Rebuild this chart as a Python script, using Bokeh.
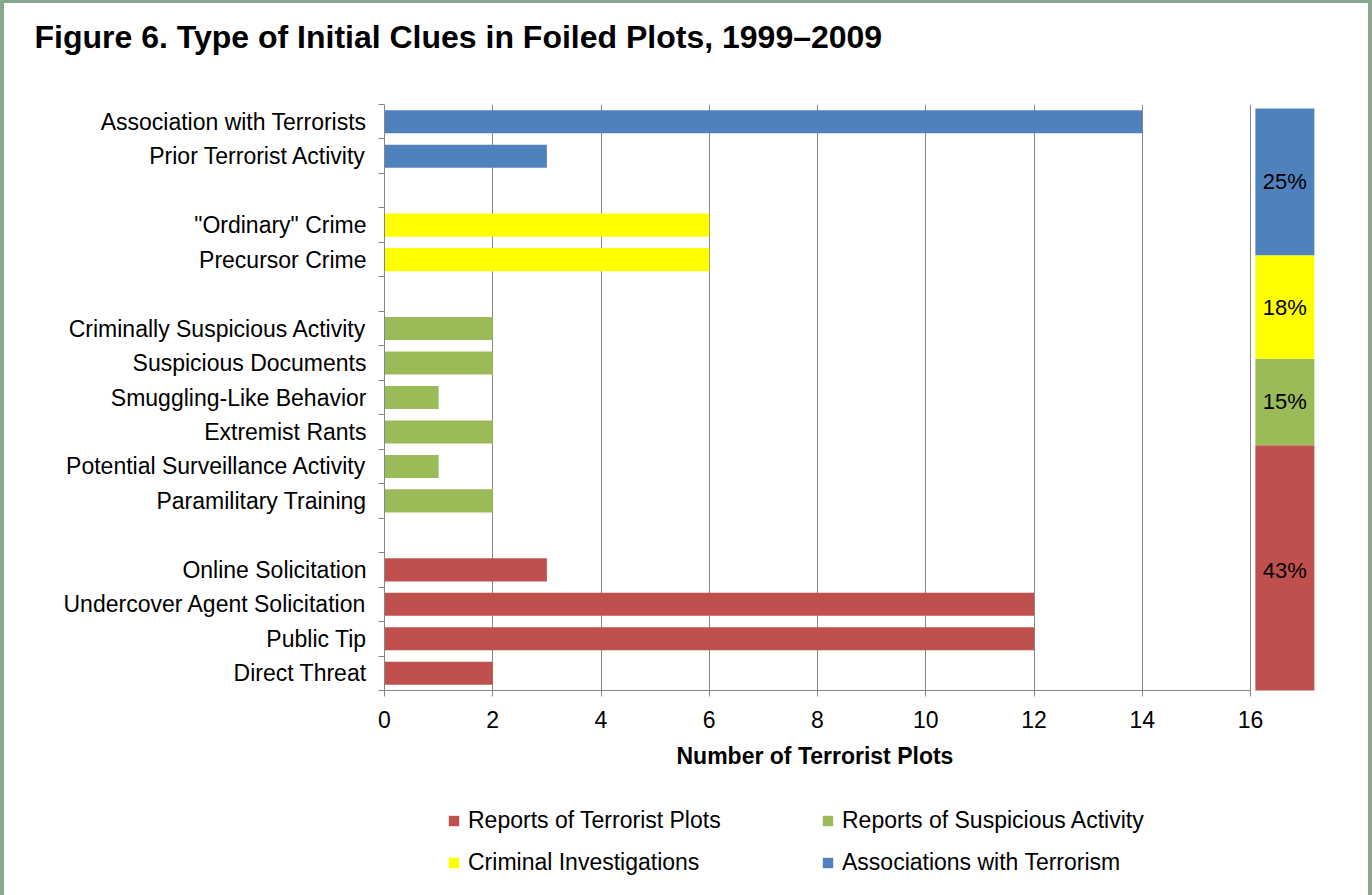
from bokeh.plotting import figure
from bokeh.layouts import column
from bokeh.models import Range1d, FixedTicker, Legend, LegendItem, ColumnDataSource, Title
from bokeh.embed import file_html
from bokeh.resources import INLINE
from bokeh.core.properties import value

# ---------------- data ----------------
title_text = "Figure 6. Type of Initial Clues in Foiled Plots, 1999\u20132009"
x_axis_label = "Number of Terrorist Plots"

group_names = ["Associations with Terrorism", "Criminal Investigations",
               "Reports of Suspicious Activity", "Reports of Terrorist Plots"]
group_colors = ["#4f81bd", "#ffff00", "#9bbb59", "#c0504d"]

assoc_labels = ["Association with Terrorists", "Prior Terrorist Activity"]
assoc_values = [14, 3]
crime_labels = ['"Ordinary" Crime', "Precursor Crime"]
crime_values = [6, 6]
susp_labels = ["Criminally Suspicious Activity", "Suspicious Documents",
               "Smuggling-Like Behavior", "Extremist Rants",
               "Potential Surveillance Activity", "Paramilitary Training"]
susp_values = [2, 2, 1, 2, 1, 2]
plot_labels = ["Online Solicitation", "Undercover Agent Solicitation",
               "Public Tip", "Direct Threat"]
plot_values = [3, 12, 12, 2]

x_ticks = [0, 2, 4, 6, 8, 10, 12, 14, 16]

group_labels = [assoc_labels, crime_labels, susp_labels, plot_labels]
group_values = [assoc_values, crime_values, susp_values, plot_values]

# ---------------- style / layout ----------------
FONT = "Liberation Sans"
GRAY = "#868686"
FRAME_GREEN = "#88a890"
FRAME_W, FRAME_H = 934, 586
X_MAX = 16
X_END = X_MAX * FRAME_W / 866.0      # frame also hosts the share column
SHARE_LEFT, SHARE_RIGHT = 16.09, 17.18
BAR_H = 0.67
FS = "23px"
TOTAL_W = 1372
MAIN_H = 790
LEG_H = 105

# slot positions (one empty slot between groups)
centers_per_group = []
slot = 0
for gi, labs in enumerate(group_labels):
    cs = []
    for _ in labs:
        cs.append(slot + 0.5)
        slot += 1
    centers_per_group.append(cs)
    if gi < len(group_labels) - 1:
        slot += 1
n_slots = slot

p = figure(frame_width=FRAME_W, frame_height=FRAME_H,
           x_range=Range1d(0, X_END), y_range=Range1d(n_slots, 0),
           min_border_left=384, min_border_right=TOTAL_W - 384 - FRAME_W,
           min_border_top=104, min_border_bottom=MAIN_H - 104 - FRAME_H,
           output_backend="svg", toolbar_location=None, title=None,
           background_fill_color="white", border_fill_alpha=0,
           outline_line_color=None)
p.extra_y_ranges = {"pct": Range1d(0.85, 100.68)}

# bars
renderers = []
for labs, vals, cs, col in zip(group_labels, group_values, centers_per_group, group_colors):
    src = ColumnDataSource(dict(y=cs, v=vals, name=labs))
    r = p.hbar(y="y", left=0, right="v", height=BAR_H, source=src,
               fill_color=col, line_color=None)
    renderers.append(r)

# share column (stacked, bottom = last group)
totals = [sum(v) for v in group_values]
grand = sum(totals)
bottoms, tops, mids, pct_text = [], [], [], []
acc = 0.0
for t in reversed(totals):
    share = 100.0 * t / grand
    bottoms.append(acc)
    tops.append(acc + share)
    mids.append(acc + share / 2)
    pct_text.append(f"{round(share)}%")
    acc += share
share_src = ColumnDataSource(dict(b=bottoms, t=tops, m=mids, txt=pct_text,
                                  c=list(reversed(group_colors))))
p.quad(left=SHARE_LEFT, right=SHARE_RIGHT, bottom="b", top="t", fill_color="c",
       line_color=None, source=share_src, y_range_name="pct")
p.text(x=(SHARE_LEFT + SHARE_RIGHT) / 2, y="m", text="txt", source=share_src,
       y_range_name="pct", text_align="center", text_baseline="middle",
       text_font=value(FONT), text_font_size="22px", text_color="black")

# axes
all_centers = [c for cs in centers_per_group for c in cs]
all_labels = [l for labs in group_labels for l in labs]
yax = p.yaxis[0]
yax.ticker = FixedTicker(ticks=all_centers, minor_ticks=list(range(n_slots + 1)))
yax.major_label_overrides = {c: l for c, l in zip(all_centers, all_labels)}
yax.major_tick_out = 0
yax.major_tick_in = 0
yax.minor_tick_out = 6
yax.minor_tick_in = 0
yax.minor_tick_line_color = GRAY
yax.axis_line_color = GRAY
yax.major_label_standoff = 12
yax.major_label_text_font = FONT
yax.major_label_text_font_size = FS
yax.major_label_text_color = "black"

xax = p.xaxis[0]
xax.ticker = FixedTicker(ticks=x_ticks)
xax.bounds = (0, X_MAX)
xax.axis_line_color = GRAY
xax.major_tick_line_color = GRAY
xax.major_tick_out = 6
xax.major_tick_in = 0
xax.minor_tick_line_color = None
xax.major_label_standoff = 14
xax.major_label_text_font = FONT
xax.major_label_text_font_size = FS
xax.major_label_text_color = "black"

p.ygrid.visible = False
p.xgrid.ticker = FixedTicker(ticks=x_ticks)
p.xgrid.bounds = (0, X_MAX)
p.xgrid.grid_line_color = GRAY

# title: a blank spacer next to the frame, then the title line above it
spacer = Title(text=" ", text_font=FONT, text_font_size="32px", standoff=12,
               text_color="white")
main_title = Title(text=title_text, align="left", offset=-350, standoff=0,
                   text_font=FONT, text_font_size="32px", text_font_style="bold",
                   text_color="black")
p.add_layout(spacer, "above")
p.add_layout(main_title, "above")

# x-axis title, placed under the middle of the 0..16 scale
xtitle = Title(text=x_axis_label, align="left", offset=292, standoff=20,
               text_font=FONT, text_font_size=FS, text_font_style="bold",
               text_color="black")
p.add_layout(xtitle, "below")

# ---------------- legend strip ----------------
lf = figure(width=TOTAL_W, height=LEG_H, frame_width=TOTAL_W, frame_height=LEG_H,
            min_border=0, x_range=Range1d(0, 1), y_range=Range1d(0, 1),
            output_backend="svg", toolbar_location=None, title=None,
            background_fill_alpha=0, border_fill_alpha=0, outline_line_color=None)
lf.axis.visible = False
lf.grid.visible = False
# zero-area proxy glyphs that only supply the legend keys
legend_renderers = []
for col in group_colors:
    legend_renderers.append(lf.hbar(y=[0], left=[0], right=[0], height=0,
                                    fill_color=col, line_color=None))

order = [3, 2, 1, 0]   # row-wise: plots, suspicious / criminal, associations
items = [LegendItem(label=group_names[i], renderers=[legend_renderers[i]]) for i in order]
legend = Legend(items=items, ncols=2, orientation="horizontal",
                location=(447, 19),
                glyph_width=13, glyph_height=13, label_standoff=8,
                label_width=338, spacing=15, padding=0, margin=0,
                label_text_font=FONT, label_text_font_size=FS,
                label_text_color="black",
                border_line_color=None, background_fill_alpha=0)
lf.add_layout(legend, "center")

layout = column(p, lf, spacing=0,
                styles={"box-shadow": f"inset 4px 0 0 0 {FRAME_GREEN}, "
                                      f"inset -4px 0 0 0 {FRAME_GREEN}, "
                                      f"inset 0 3px 0 0 {FRAME_GREEN}"})

open("out.html", "w").write(file_html(layout, INLINE))
